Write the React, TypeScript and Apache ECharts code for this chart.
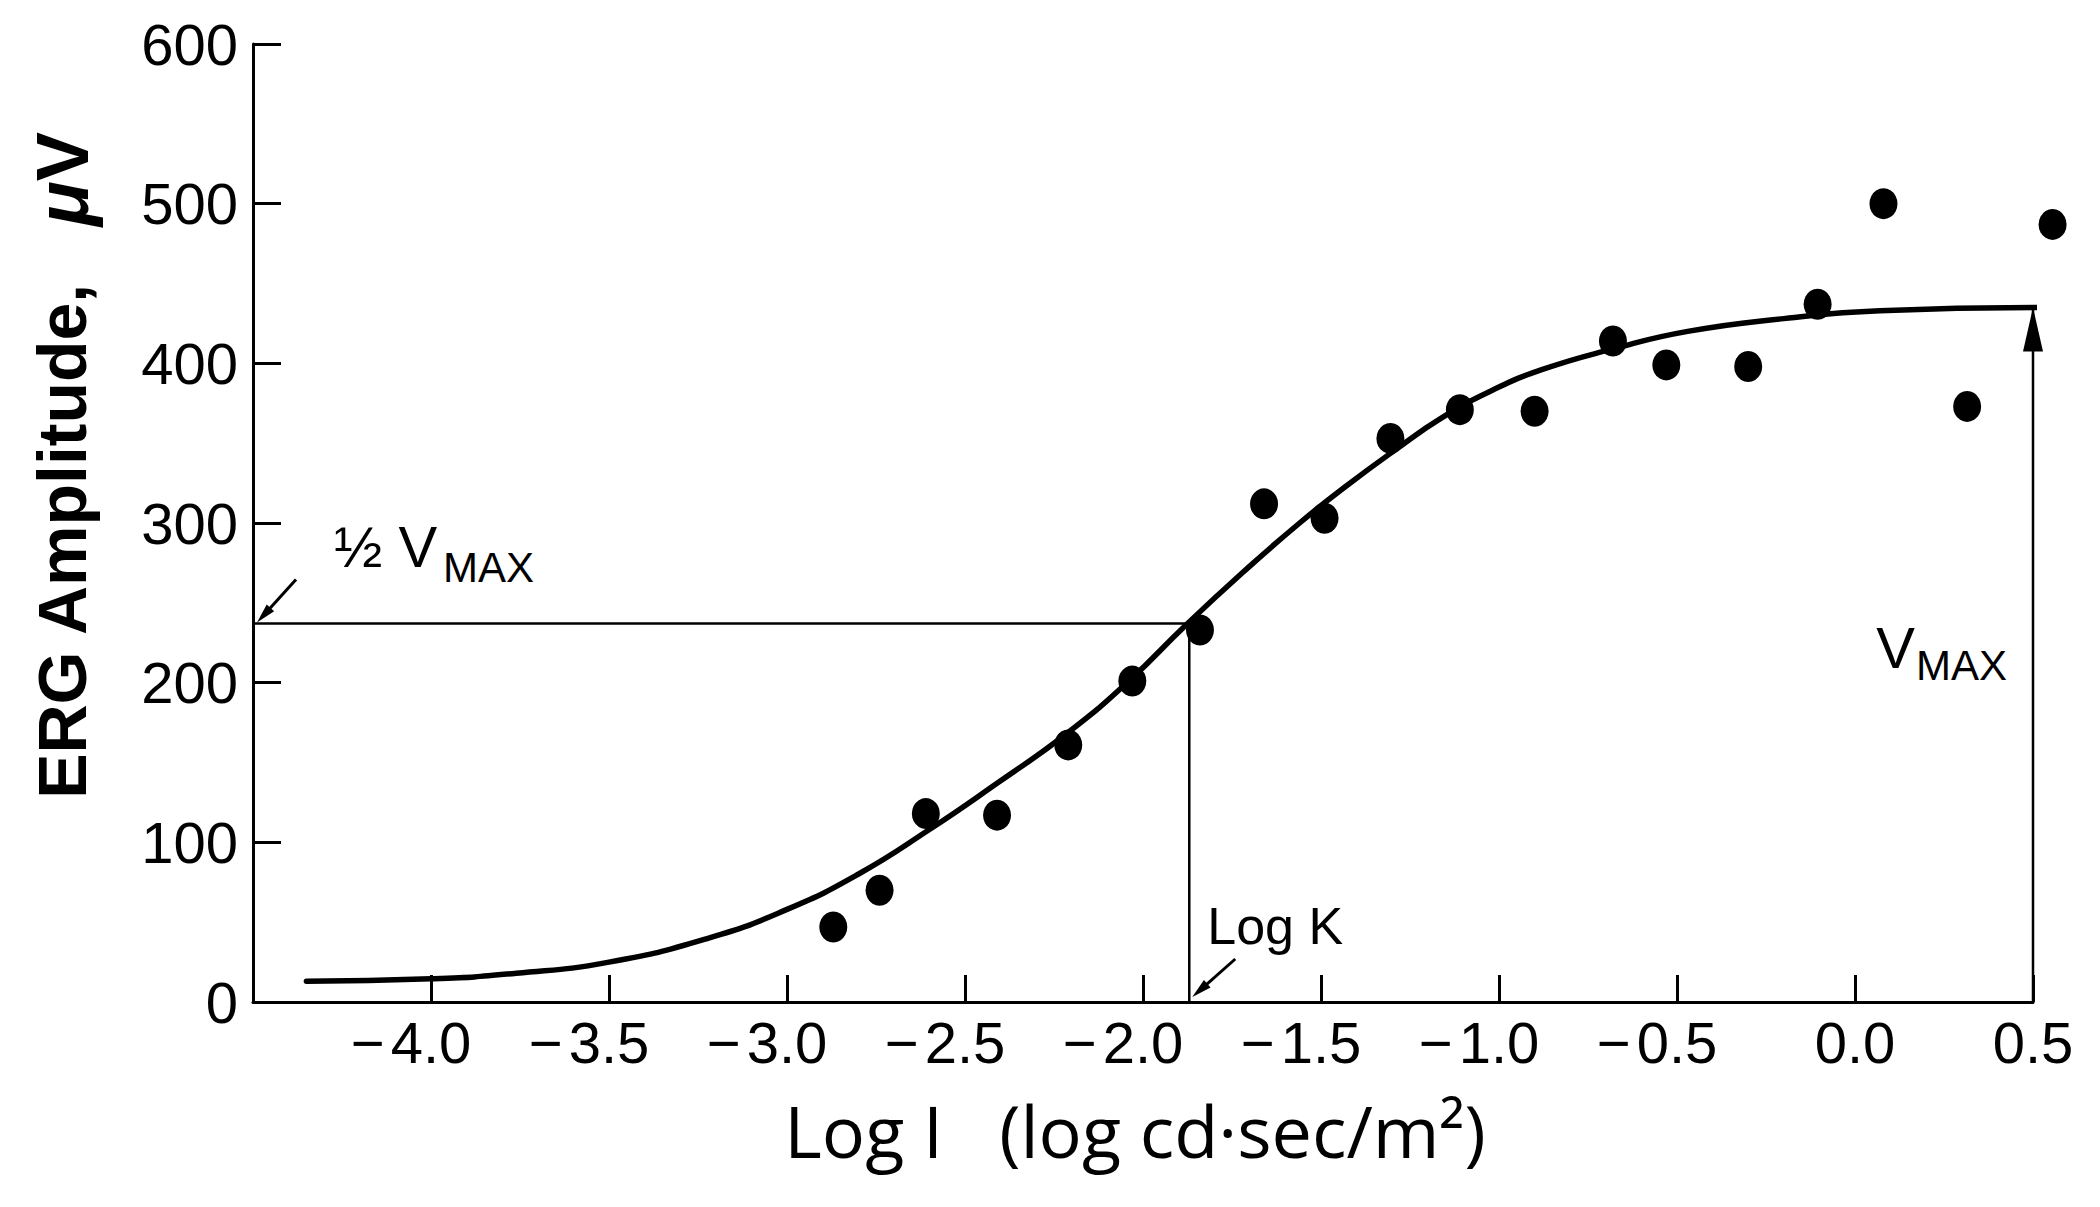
import React, { useEffect, useRef } from 'react';
import * as echarts from 'echarts';

// ---- Data ----
const pointLogI = [-2.87, -2.74, -2.61, -2.41, -2.21, -2.03, -1.84, -1.66, -1.49, -1.305, -1.11, -0.9, -0.68, -0.53, -0.3, -0.105, 0.08, 0.315, 0.555];
const pointAmp = [47, 70, 118, 117, 161, 201, 233, 312, 303, 353, 371, 370, 414, 399, 398, 437, 500, 373, 487];

const curveLogI = [-4.35, -4.0, -3.76, -3.5, -3.22, -3.0, -2.8, -2.6, -2.41, -2.215, -2.04, -1.88, -1.72, -1.56, -1.43, -1.29, -1.16, -1.02, -0.88, -0.68, -0.47, -0.2, 0.07, 0.52];
const curveAmp = [13, 14.5, 18, 25, 40, 58, 80, 108, 137, 168, 201, 236, 269, 300, 323, 346, 366, 383, 396, 409, 420, 428, 433, 435];

const xMin = -4.5;
const xMax = 0.5;
const xStep = 0.5;
const yMin = 0;
const yMax = 600;
const yStep = 100;

const halfVmax = 237;
const logK = -1.87;
const vmax = 435;

const yTitle = 'ERG Amplitude,';
const yUnit = 'μ';
const yUnit2 = 'V';
const xTitle = 'Log I   (log cd·sec/m²)';

const SANS = '"Liberation Sans", Arial, Helvetica, sans-serif';
const TICK_FS = 58;

function fmtX(v: number) {
  const s = Math.abs(v).toFixed(1);
  // minus hangs to the left; the number itself is centred on the tick
  return v < 0 ? `{m|\u2212}{n|${s}}{h|\u2212}` : `{n|${s}}`;
}

function arrow(tail: number[], tip: number[], headLen: number, headW: number, lw: number) {
  const dx = tip[0] - tail[0];
  const dy = tip[1] - tail[1];
  const L = Math.hypot(dx, dy);
  const ux = dx / L, uy = dy / L;
  const bx = tip[0] - ux * headLen, by = tip[1] - uy * headLen;
  const nx = -uy, ny = ux;
  return [
    { type: 'line', shape: { x1: tail[0], y1: tail[1], x2: bx + ux * 2, y2: by + uy * 2 }, style: { stroke: '#000', lineWidth: lw }, silent: true },
    {
      type: 'polygon',
      shape: { points: [[tip[0], tip[1]], [bx + nx * headW / 2, by + ny * headW / 2], [bx - nx * headW / 2, by - ny * headW / 2]] },
      style: { fill: '#000' },
      silent: true,
    },
  ];
}

export default function App() {
  const ref = useRef<HTMLDivElement>(null);

  useEffect(() => {
    if (!ref.current) return;
    const chart = echarts.init(ref.current, null, { renderer: 'svg' });

    const points = pointLogI.map((x, i) => [x, pointAmp[i]]);
    const curve = curveLogI.map((x, i) => [x, curveAmp[i]]);

    const tickText = { fontFamily: SANS, fontSize: TICK_FS, color: '#000' };

    const option: any = {
      animation: false,
      backgroundColor: '#fff',
      grid: { left: 253, right: 67, top: 44, bottom: 205, containLabel: false },
      xAxis: {
        type: 'value',
        min: xMin,
        max: xMax,
        interval: xStep,
        name: xTitle,
        nameLocation: 'middle',
        nameGap: 92,
        nameTextStyle: { fontFamily: '"Open Sans", sans-serif', fontSize: 72, color: '#000', padding: [0, 16, 0, 0] },
        axisLine: { show: true, onZero: false, lineStyle: { color: '#000', width: 3 } },
        axisTick: { show: true, inside: true, length: 27, lineStyle: { color: '#000', width: 3 } },
        splitLine: { show: false },
        axisLabel: {
          showMinLabel: false,
          margin: 11,
          ...tickText,
          formatter: (v: number) => fmtX(v),
          rich: {
            m: { ...tickText, padding: [0, 6, 0, 0] },
            n: { ...tickText },
            h: { ...tickText, color: 'rgba(0,0,0,0)', padding: [0, 6, 0, 0] },
          },
        },
      },
      yAxis: {
        type: 'value',
        min: yMin,
        max: yMax,
        interval: yStep,
        axisLine: { show: true, onZero: false, lineStyle: { color: '#000', width: 3 } },
        axisTick: { show: true, inside: true, length: 28, lineStyle: { color: '#000', width: 3 } },
        splitLine: { show: false },
        axisLabel: { margin: 15, ...tickText },
      },
      series: [
        {
          type: 'line',
          data: [[xMin, halfVmax], [logK, halfVmax]],
          symbol: 'none',
          lineStyle: { color: '#000', width: 2.5 },
          silent: true,
          z: 2,
        },
        {
          type: 'line',
          data: [[logK, 0], [logK, halfVmax]],
          symbol: 'none',
          lineStyle: { color: '#000', width: 2.5 },
          silent: true,
          z: 2,
        },
        {
          type: 'line',
          data: [[xMax, 0], [xMax, vmax]],
          symbol: 'none',
          lineStyle: { color: '#000', width: 2.5 },
          silent: true,
          clip: false,
          z: 2,
        },
        {
          type: 'scatter',
          data: [[xMax, vmax]],
          symbol: 'path://M50,0 L100,200 L0,200 Z',
          symbolSize: [20, 44],
          symbolOffset: [0, '50%'],
          itemStyle: { color: '#000', opacity: 1 },
          clip: false,
          silent: true,
          z: 3,
        },
        {
          type: 'line',
          data: curve,
          smooth: 0.5,
          symbol: 'none',
          lineStyle: { color: '#000', width: 5.5, cap: 'round' },
          silent: true,
          clip: false,
          z: 4,
        },
        {
          type: 'scatter',
          data: points,
          symbol: 'circle',
          symbolSize: [28, 31],
          itemStyle: { color: '#000', opacity: 1 },
          clip: false,
          z: 5,
        },
      ],
    };
    chart.setOption(option);

    const p = (x: number, y: number) => chart.convertToPixel({ gridIndex: 0 }, [x, y]) as number[];
    const [axX, halfY] = p(xMin, halfVmax);
    const [kX, baseY] = p(logK, 0);
    const [vX] = p(xMax, 0);

    const graphic: any[] = [
      // y axis title
      {
        type: 'text',
        x: 62,
        y: 466,
        rotation: Math.PI / 2,
        silent: true,
        style: {
          text: `{a|${yTitle}   }{b|${yUnit}}{c|${yUnit2}}`,
          align: 'center',
          verticalAlign: 'middle',
          fill: '#000',
          rich: {
            a: { fontFamily: SANS, fontSize: 68, fontWeight: 'bold', fill: '#000' },
            b: { fontFamily: SANS, fontSize: 74, fontWeight: 'bold', fontStyle: 'italic', fill: '#000' },
            c: { fontFamily: SANS, fontSize: 74, fontWeight: 'bold', fill: '#000' },
          },
        },
      },
      // 1/2 Vmax label
      {
        type: 'text', x: axX + 81, y: halfY - 77, silent: true,
        style: { text: '½ V', fontFamily: SANS, fontSize: 58, fill: '#000', align: 'left', verticalAlign: 'middle' },
      },
      {
        type: 'text', x: axX + 190, y: halfY - 56, silent: true,
        style: { text: 'MAX', fontFamily: SANS, fontSize: 42, fill: '#000', align: 'left', verticalAlign: 'middle' },
      },
      // Log K label
      {
        type: 'text', x: kX + 18, y: baseY - 76, silent: true,
        style: { text: 'Log K', fontFamily: SANS, fontSize: 52, fill: '#000', align: 'left', verticalAlign: 'middle' },
      },
      // Vmax label (right)
      {
        type: 'text', x: vX - 118, y: halfY + 24, silent: true,
        style: { text: 'V', fontFamily: SANS, fontSize: 58, fill: '#000', align: 'right', verticalAlign: 'middle' },
      },
      {
        type: 'text', x: vX - 117, y: halfY + 42, silent: true,
        style: { text: 'MAX', fontFamily: SANS, fontSize: 42, fill: '#000', align: 'left', verticalAlign: 'middle' },
      },
      ...arrow([axX + 43, halfY - 44], [axX + 4, halfY - 1], 20, 10, 3),
      ...arrow([kX + 46, baseY - 43], [kX + 3, baseY - 5], 20, 10, 3),
    ];
    chart.setOption({ graphic });

    return () => {
      chart.dispose();
    };
  }, []);

  return (
    <div
      ref={ref}
      style={{ position: 'fixed', left: 0, top: 0, width: 2100, height: 1207, background: '#fff' }}
    />
  );
}
